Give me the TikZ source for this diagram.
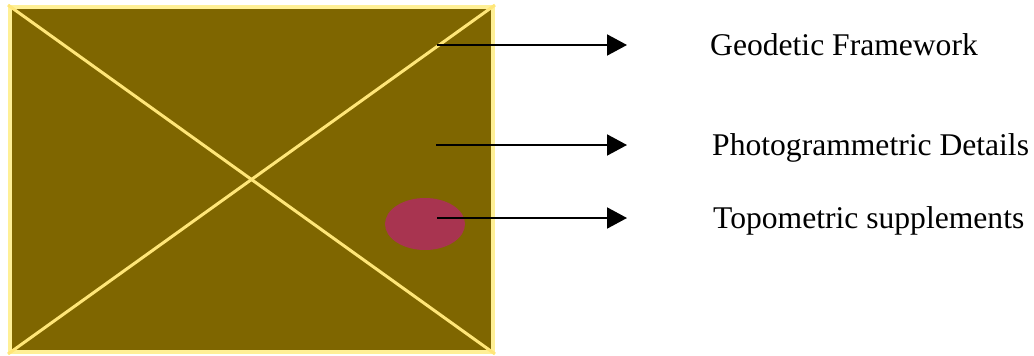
\documentclass[tikz,border=0pt]{standalone}
\usepackage{fontspec}
\setmainfont{Liberation Serif}
\usetikzlibrary{arrows.meta,shapes.geometric}
\definecolor{mapolive}{RGB}{127,102,0}
\definecolor{mapglow}{RGB}{255,240,150}
\definecolor{mapline}{RGB}{255,230,120}
\definecolor{spotred}{RGB}{168,52,80}
\tikzset{
  map box/.style={
    rectangle, fill=mapolive, draw=mapglow, line width=4pt,
    inner sep=0pt, minimum width=483pt, minimum height=345pt
  },
  map diag/.style={
    draw=mapline, line width=3pt
  },
  spot/.style={
    ellipse, fill=spotred, draw=none, inner sep=0pt,
    minimum width=80pt, minimum height=52pt
  },
  label text/.style={
    anchor=west, inner sep=0pt, text height=21.5pt, text depth=0pt,
    font=\fontsize{31.6}{36}\selectfont
  },
  pointer/.style={
    draw=black, line width=2pt, shorten >=83pt,
    -{Triangle[length=20pt,width=21pt]}
  }
}

\begin{document}
\begin{tikzpicture}[x=1pt,y=-1pt]
  \useasboundingbox (0,0) rectangle (1034,356);
% ------------------------------------------------
% map sheet with its two diagonals
% ------------------------------------------------
  \node[map box] (map)  at (251.5,179.5) {};
  \draw[map diag] (map.north west) -- (map.south east);
  \draw[map diag] (map.south west) -- (map.north east);
  \node[spot]    (spot) at (425,224) {};

% ------------------------------------------------
% labels on the right, one arrow each
% ------------------------------------------------
  \coordinate (geoS)   at (437,45);
  \coordinate (photoS) at (436,145);
  \coordinate (topoS)  at (437,218);

  \node[label text] (geoL)   at (710,45)  {Geodetic Framework};
  \node[label text] (photoL) at (712,145) {Photogrammetric Details};
  \node[label text] (topoL)  at (713,218) {Topometric supplements};

  \draw[pointer] (geoS)   -- (geoL.west);
  \draw[pointer, shorten >=85pt] (photoS) -- (photoL.west);
  \draw[pointer, shorten >=86pt] (topoS)  -- (topoL.west);
\end{tikzpicture}
\end{document}
